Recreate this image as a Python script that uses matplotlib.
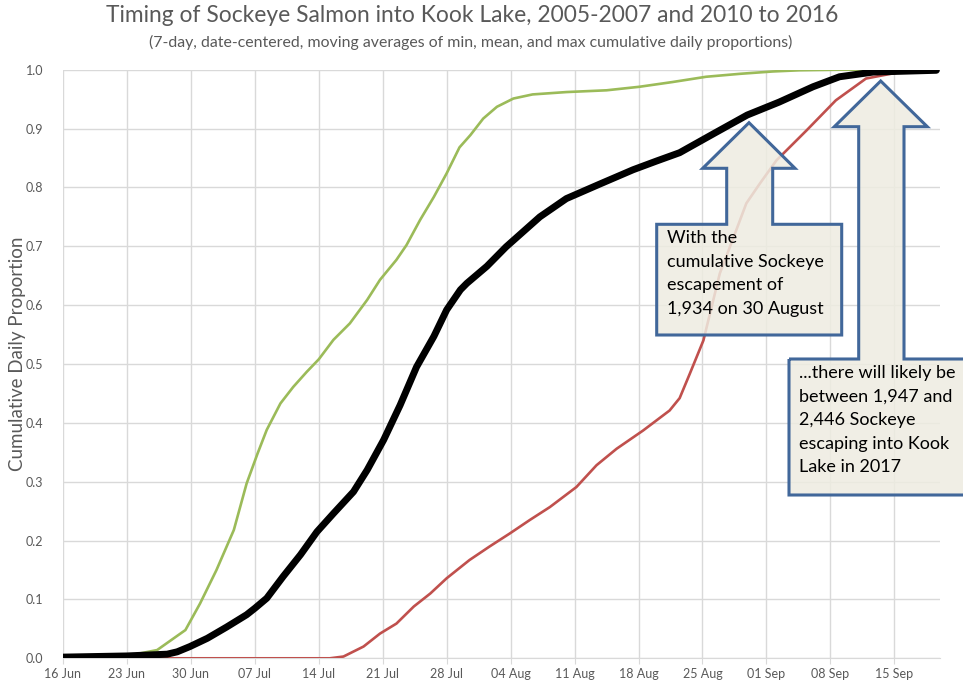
import numpy as np
import pandas as pd
import matplotlib
matplotlib.use("Agg")
import matplotlib.pyplot as plt
import matplotlib.dates as mdates
from matplotlib.patches import Polygon

plt.rcParams['font.family'] = ['Lato', 'DejaVu Sans']

# days after 16 Jun 2017 and cumulative proportions
max_days = [0, 7.0, 10.3, 13.4, 15.0, 16.8, 18.7, 20.1, 21.3, 22.3, 23.8, 25.2, 26.7, 28.0,
            29.6, 31.4, 33.3, 34.7, 36.5, 37.6, 39.1, 40.6, 42.0, 43.4, 44.6, 46.0, 47.5,
            49.3, 51.4, 55.1, 59.5, 63.1, 66.7, 70.4, 74.1, 77.7, 80.6, 85.0, 95.6]
max_vals = [0, 0.004, 0.014, 0.048, 0.093, 0.150, 0.218, 0.297, 0.348, 0.388, 0.433, 0.461,
            0.487, 0.508, 0.541, 0.569, 0.609, 0.643, 0.677, 0.702, 0.745, 0.784, 0.824, 0.868,
            0.889, 0.917, 0.937, 0.951, 0.958, 0.962, 0.965, 0.971, 0.979, 0.988, 0.993, 0.997,
            0.999, 1.0, 1.0]

mean_days = [0, 7.0, 11.4, 12.5, 13.9, 15.8, 17.9, 20.1, 21.0, 22.3, 24.1, 26.0, 27.8, 29.6,
             31.8, 33.3, 35.1, 36.9, 38.7, 40.6, 42.0, 43.5, 44.2, 46.4, 48.5, 52.2, 55.1,
             58.8, 62.4, 65.0, 67.5, 71.3, 74.9, 78.4, 82.1, 85.0, 88.7, 95.6]
mean_vals = [0.002, 0.004, 0.007, 0.011, 0.020, 0.034, 0.053, 0.074, 0.085, 0.102, 0.139, 0.176,
             0.215, 0.246, 0.283, 0.320, 0.371, 0.430, 0.495, 0.547, 0.592, 0.626, 0.637, 0.666,
             0.699, 0.750, 0.781, 0.806, 0.830, 0.845, 0.859, 0.892, 0.923, 0.945, 0.971, 0.988,
             0.996, 0.999]

min_days = [0, 29.2, 30.7, 32.9, 34.7, 36.5, 38.4, 40.2, 42.0, 44.5, 46.7, 48.9, 51.1, 53.3,
            56.2, 58.4, 60.6, 63.5, 66.4, 67.5, 68.6, 70.1, 71.9, 73.3, 74.8, 76.3, 78.1,
            81.4, 84.6, 87.9, 91.6, 95.6]
min_vals = [0, 0, 0.003, 0.020, 0.042, 0.059, 0.088, 0.110, 0.136, 0.167, 0.190, 0.212, 0.235,
            0.257, 0.291, 0.328, 0.356, 0.387, 0.421, 0.442, 0.483, 0.540, 0.654, 0.711, 0.773,
            0.807, 0.846, 0.897, 0.948, 0.985, 0.996, 0.999]

start = pd.Timestamp("2017-06-16")
tick_dates = pd.date_range(start, periods=14, freq="7D")

callout1_text = "With the\ncumulative Sockeye\nescapement of\n1,934 on 30 August"
callout2_text = "...there will likely be\nbetween 1,947 and\n2,446 Sockeye\nescaping into Kook\nLake in 2017"

W, H = 963, 686
fig = plt.figure(figsize=(W / 100, H / 100), dpi=100)
ax = fig.add_axes([63 / W, 1 - 658.3 / H, (940 - 63) / W, (658.3 - 69.7) / H])

def to_dates(days):
    return start + pd.to_timedelta(np.array(days), unit="D")

ax.plot(to_dates(max_days), max_vals, color="#9BBB59", lw=1.9, zorder=3)
ax.plot(to_dates(min_days), min_vals, color="#C0504D", lw=1.9, zorder=3)
ax.plot(to_dates(mean_days), mean_vals, color="black", lw=5, zorder=4,
        solid_capstyle="round", solid_joinstyle="round")

ax.set_xlim(start, start + pd.Timedelta(days=96))
ax.set_ylim(0, 1.0)
ax.set_yticks(np.arange(0, 1.01, 0.1))
ax.yaxis.set_major_formatter(matplotlib.ticker.FormatStrFormatter("%.1f"))
ax.set_xticks(tick_dates)
ax.xaxis.set_major_formatter(mdates.DateFormatter("%d %b"))
ax.grid(True, color="#D9D9D9", lw=1)
ax.set_axisbelow(True)
for s in ["top", "right", "left"]:
    ax.spines[s].set_visible(False)
ax.spines["bottom"].set_color("#D9D9D9")
ax.tick_params(axis="x", colors="#595959", labelsize=9, length=4, color="#D9D9D9", pad=3)
ax.tick_params(axis="y", colors="#595959", labelsize=9, length=0, pad=14)

fig.text(18 / W, 1 - 354 / H, "Cumulative Daily Proportion", rotation=90, ha="center", va="center",
         fontsize=13.5, color="#595959")
fig.text(472 / W, 1 - 16 / H, "Timing of Sockeye Salmon into Kook Lake, 2005-2007 and 2010 to 2016",
         ha="center", va="center", fontsize=16.4, color="#595959")
fig.text(471 / W, 1 - 42 / H,
         "(7-day, date-centered, moving averages of min, mean, and max cumulative daily proportions)",
         ha="center", va="center", fontsize=11.4, color="#595959")

# up-arrow callouts, in pixel coordinates of the figure
def callout(box_l, box_r, box_t, box_b, stem_l, stem_r, head_y, head_l, head_r, tip_x, tip_y):
    pts = [(box_l, box_t), (stem_l, box_t), (stem_l, head_y), (head_l, head_y), (tip_x, tip_y),
           (head_r, head_y), (stem_r, head_y), (stem_r, box_t), (box_r, box_t), (box_r, box_b),
           (box_l, box_b)]
    pts = [(x / W, 1 - y / H) for x, y in pts]
    p = Polygon(pts, closed=True, facecolor="#EEECE1", alpha=0.85, edgecolor="none",
                transform=fig.transFigure, zorder=5)
    fig.patches.append(p)
    e = Polygon(pts, closed=True, facecolor="none", edgecolor="#41679A", lw=2.2,
                transform=fig.transFigure, zorder=6)
    fig.patches.append(e)

callout(656.7, 841.7, 224.3, 335, 726.7, 772.7, 168.3, 702.7, 795, 749, 122.7)
callout(789, 965, 359, 495, 858.7, 904, 126.7, 834.3, 927.3, 880.7, 81)

fig.text(666.7 / W, 1 - 230 / H, callout1_text, ha="left", va="top", fontsize=13,
         color="black", linespacing=1.58, zorder=7)
fig.text(799 / W, 1 - 365 / H, callout2_text, ha="left", va="top", fontsize=13,
         color="black", linespacing=1.58, zorder=7)

fig.savefig("out.png", dpi=100)
